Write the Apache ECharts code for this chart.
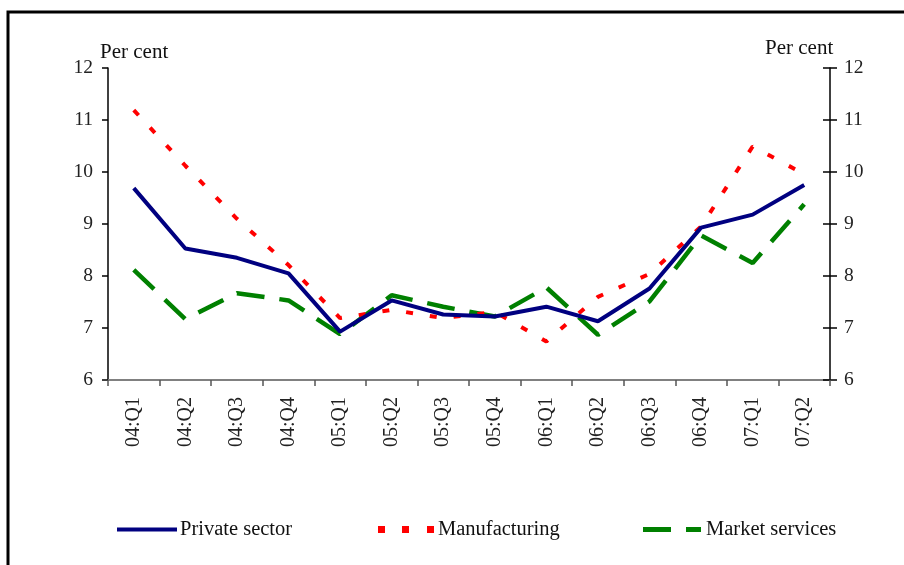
<!DOCTYPE html>
<html>
<head>
<meta charset="utf-8">
<script src="https://cdn.jsdelivr.net/npm/echarts@6/dist/echarts.min.js"></script>
<style>
html,body{margin:0;padding:0;background:#fff;}
#chart{width:904px;height:565px;}
</style>
</head>
<body>
<div id="chart"></div>
<script>
const categories = ['04:Q1','04:Q2','04:Q3','04:Q4','05:Q1','05:Q2','05:Q3','05:Q4','06:Q1','06:Q2','06:Q3','06:Q4','07:Q1','07:Q2'];
const privateSector = [9.69, 8.53, 8.35, 8.05, 6.93, 7.53, 7.26, 7.22, 7.41, 7.13, 7.76, 8.93, 9.18, 9.75];
const manufacturing = [11.19, 10.12, 9.10, 8.21, 7.19, 7.35, 7.19, 7.31, 6.74, 7.60, 8.04, 8.95, 10.49, 9.96];
const marketServices = [8.12, 7.17, 7.67, 7.53, 6.88, 7.63, 7.41, 7.22, 7.78, 6.87, 7.51, 8.78, 8.25, 9.38];
const yTicks = { min: 6, max: 12, interval: 1 };
const seriesNames = ['Private sector', 'Manufacturing', 'Market services'];

const FONT = 'Liberation Serif';
const chart = echarts.init(document.getElementById('chart'), null, { renderer: 'canvas' });

const legendBase = (name, left, icon, w, h, textPad) => ({
  data: [{ name: name, icon: icon }], left: left, top: 519, itemWidth: w, itemHeight: h, itemGap: 0,
  padding: 0, symbolKeepAspect: false,
  textStyle: { fontFamily: FONT, fontSize: 20.5, color: '#111', padding: [0, 0, 0, textPad] }
});

chart.setOption({
  animation: false,
  backgroundColor: '#fff',
  grid: { left: 108, right: 74, top: 68, bottom: 185, containLabel: false },
  legend: [
    legendBase(seriesNames[0], 117, 'path://M0,0H60V4H0Z', 60, 4, -2),
    legendBase(seriesNames[1], 378, 'path://M0,0H7V7H0ZM24,0H31V7H24ZM49,0H56V7H49Z', 56, 7, -1),
    legendBase(seriesNames[2], 643, 'path://M0,0H28V5H0ZM43,0H58V5H43Z', 58, 5, 0)
  ],
  xAxis: {
    type: 'category',
    data: categories,
    boundaryGap: true,
    axisLine: { lineStyle: { color: '#808080', width: 2 } },
    axisTick: { show: true, alignWithLabel: false, length: 6, lineStyle: { color: '#555', width: 1.5 } },
    axisLabel: { rotate: 90, margin: 17, fontFamily: FONT, fontSize: 20, color: '#222', interval: 0 },
    splitLine: { show: false }
  },
  yAxis: [
    {
      type: 'value', position: 'left', min: yTicks.min, max: yTicks.max, interval: yTicks.interval,
      axisLine: { show: true, lineStyle: { color: '#000', width: 1.5 } },
      axisTick: { show: true, length: 6, lineStyle: { color: '#000', width: 1.5 } },
      axisLabel: { margin: 15, fontFamily: FONT, fontSize: 19.5, color: '#222' },
      splitLine: { show: false }
    },
    {
      type: 'value', position: 'right', min: yTicks.min, max: yTicks.max, interval: yTicks.interval,
      axisLine: { show: true, onZero: false, lineStyle: { color: '#000', width: 1.5 } },
      axisTick: { show: true, length: 7, lineStyle: { color: '#000', width: 1.5 } },
      axisLabel: { margin: 14, fontFamily: FONT, fontSize: 19.5, color: '#222' },
      splitLine: { show: false }
    },
    {
      type: 'value', position: 'right', min: yTicks.min, max: yTicks.max, interval: yTicks.interval,
      axisLine: { show: false },
      axisTick: { show: true, inside: true, length: 7, lineStyle: { color: '#000', width: 1.5 } },
      axisLabel: { show: false },
      splitLine: { show: false }
    }
  ],
  series: [
    {
      name: seriesNames[0], type: 'line', data: privateSector, symbol: 'none',
      lineStyle: { color: '#000080', width: 4 }, itemStyle: { color: '#000080' }, z: 3
    },
    {
      name: seriesNames[1], type: 'line', data: manufacturing, symbol: 'none',
      lineStyle: { color: '#ff0000', width: 4, type: [7, 17], cap: 'butt' }, itemStyle: { color: '#ff0000' }, z: 2
    },
    {
      name: seriesNames[2], type: 'line', data: marketServices, symbol: 'none',
      lineStyle: { color: '#008000', width: 4.5, type: [28, 15], cap: 'butt' }, itemStyle: { color: '#008000' }, z: 1
    }
  ],
  graphic: [
    { type: 'rect', shape: { x: 8, y: 12, width: 1000, height: 700 }, style: { fill: 'none', stroke: '#000', lineWidth: 3 }, silent: true, z: -1 },
    { type: 'text', left: 100, top: 42, style: { text: 'Per cent', font: '21px "Liberation Serif"', fill: '#111' } },
    { type: 'text', left: 765, top: 38, style: { text: 'Per cent', font: '21px "Liberation Serif"', fill: '#111' } }
  ]
});
</script>
</body>
</html>
